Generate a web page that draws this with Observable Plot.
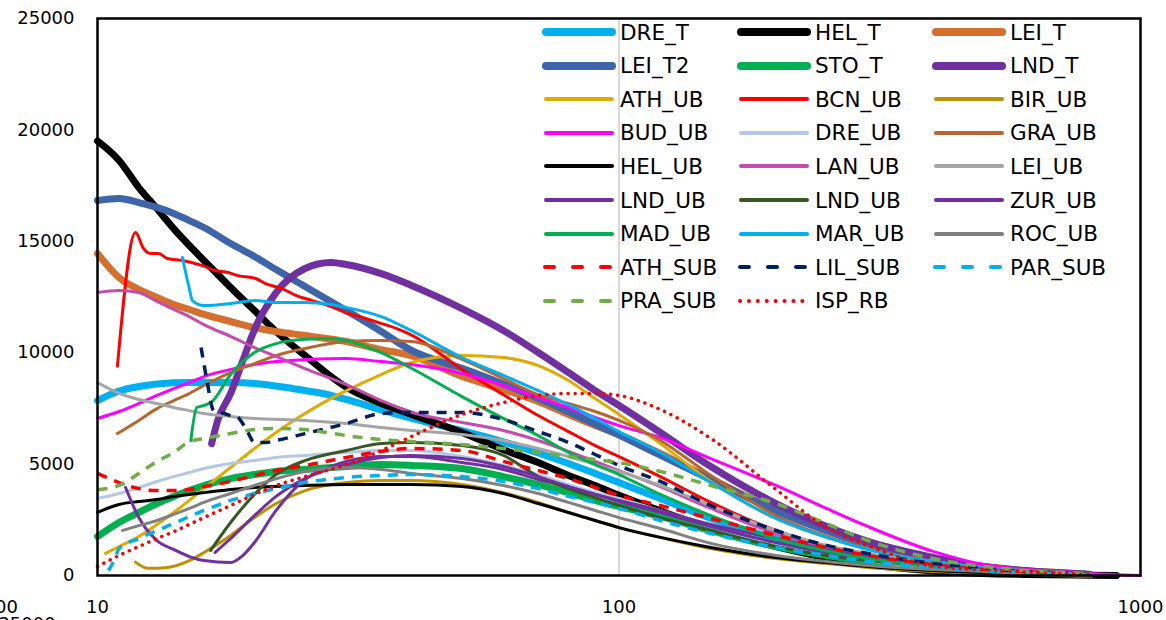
<!DOCTYPE html>
<html>
<head>
<meta charset="utf-8">
<script src="https://cdn.jsdelivr.net/npm/d3@7"></script>
<script src="https://cdn.jsdelivr.net/npm/@observablehq/plot@0.6"></script>
<style>
  html, body { margin: 0; padding: 0; background: #fff; overflow: hidden; }
  #wrap { position: relative; width: 1166px; height: 620px; }
  #legend { position: absolute; left: 0; top: 0; width: 1166px; height: 620px; pointer-events: none; }
  .item { position: absolute; height: 34px; display: flex; align-items: center; font-family: "DejaVu Sans", sans-serif; font-size: 21.5px; color: #000; white-space: nowrap; }
  .item svg { display: block; margin-right: 4px; }
</style>
</head>
<body>
<div id="wrap"><div id="chart"></div><div id="legend"></div></div>
<script>
// ---- data (x = size, y = value) ----
const DRE_T = [[10,7850],[11,8280],[12,8480],[13,8600],[15,8660],[18,8660],[20,8620],[23,8440],[25,8300],[27,8170],[30,7900],[35,7430],[40,7050],[50,6500],[60,6000],[70,5500],[80,5030],[90,4580],[100,4170],[120,3460],[150,2560],[200,1660],[250,1080],[300,760],[400,400],[500,220],[600,130],[800,45]];
const HEL_T = [[10,19500],[11,18630],[12,17410],[13,16470],[14,15570],[15,14810],[16,14140],[18,12925],[20,11890],[22,10950],[25,9870],[30,8450],[35,7720],[40,7230],[50,6420],[60,5650],[70,5070],[80,4490],[90,4040],[100,3600],[120,2900],[150,2100],[200,1300],[250,800],[300,500],[400,200],[500,90],[600,50],[800,15],[900,0]];
const LEI_T = [[10,14450],[11,13370],[12,12840],[13,12480],[14,12160],[15,11940],[16,11720],[18,11400],[20,11130],[22,10950],[25,10770],[30,10500],[35,10140],[40,9870],[50,8930],[60,8350],[70,7810],[80,7230],[90,6730],[100,6330],[120,5475],[150,4350],[200,2920],[250,2020],[300,1440],[400,760],[500,400],[600,220],[800,45]];
const LEI_T2 = [[10,16830],[11,16920],[12,16740],[13,16520],[14,16250],[15,15930],[16,15620],[18,14900],[20,14320],[22,13730],[25,12970],[30,11890],[35,10950],[40,10100],[50,9300],[60,8600],[70,7950],[80,7350],[90,6800],[100,6300],[120,5400],[150,4300],[200,2900],[250,2000],[300,1400],[400,700],[500,380],[600,200],[800,45]];
const STO_T = [[10,1750],[11,2380],[12,2830],[13,3230],[14,3550],[15,3810],[16,4040],[18,4350],[20,4530],[22,4670],[25,4760],[30,4890],[35,4980],[40,4940],[50,4800],[60,4440],[70,4080],[80,3720],[90,3370],[100,3100],[120,2650],[150,2020],[200,1300],[250,900],[300,630],[400,360],[500,180],[600,130],[800,45]];
const LND_T = [[16.55,5920],[17,6960],[18,8170],[19,9650],[20,11040],[22,12700],[25,13780],[28,14050],[30,13960],[35,13550],[40,13020],[50,11980],[60,11000],[70,10010],[80,9110],[90,8300],[100,7630],[120,6420],[150,4890],[200,3230],[250,2200],[300,1530],[400,810],[500,400],[600,220],[800,45]];
const ATH_UB = [[10.36,990],[11,1300],[12,1750],[13,2290],[14,2830],[15,3370],[16,3900],[18,4850],[20,5700],[22,6420],[25,7270],[28,7940],[30,8300],[35,9020],[40,9560],[50,9870],[60,9780],[70,9420],[80,8750],[90,7940],[100,7230],[120,5920],[150,4220],[200,2560],[250,1710],[300,1170],[400,630],[500,360],[600,220],[800,90]];
const BCN_UB = [[10.92,9400],[11.83,15390],[12.25,14680],[12.64,14450],[13.09,14450],[13.62,14230],[14.55,14140],[15.9,13910],[16.8,13690],[17.8,13600],[18.6,13460],[20.1,13330],[21,13100],[22.6,12880],[24,12570],[25.8,12340],[27.7,12120],[29.9,11800],[32.2,11580],[34.6,11350],[37.4,11090],[40.2,10770],[50,9250],[60,8120],[70,7180],[80,6460],[90,5830],[100,5340],[120,4440],[150,3280],[200,2020],[250,1300],[300,900],[400,450],[500,270],[600,180],[800,90]];
const BIR_UB = [[11.83,600],[12.5,320],[13.5,350],[15,670],[16,1030],[18,1800],[20,2600],[22,3230],[25,3810],[30,4170],[35,4260],[40,4260],[50,4080],[60,3720],[70,3280],[80,2830],[90,2470],[100,2150],[120,1710],[150,1210],[200,760],[250,540],[300,360],[400,180],[500,90],[600,45],[800,0]];
const BUD_UB = [[10,7050],[11,7360],[12,7720],[13,8080],[14,8390],[15,8660],[16,8930],[18,9250],[20,9470],[22,9600],[25,9690],[30,9740],[35,9600],[40,9470],[50,9070],[60,8530],[70,7990],[80,7540],[90,7090],[100,6730],[120,6190],[150,5250],[200,4040],[250,3010],[300,2200],[400,1080],[500,490],[600,270],[700,180],[800,90],[1000,0]];
const DRE_UB = [[10,3460],[11,3680],[12,3950],[13,4220],[14,4440],[15,4620],[16,4800],[18,5030],[20,5160],[22,5300],[25,5390],[30,5520],[35,5610],[40,5610],[50,5340],[60,4940],[70,4530],[80,4080],[90,3720],[100,3460],[120,2920],[150,2200],[200,1440],[250,990],[300,670],[400,360],[500,180],[600,90],[800,45]];
const GRA_UB = [[10.92,6370],[12,6960],[13,7490],[14,7850],[15,8170],[16,8530],[18,9110],[20,9510],[22,9870],[25,10190],[30,10500],[35,10550],[40,10500],[50,9700],[60,8840],[70,8120],[80,7720],[90,7360],[100,6960],[120,6060],[150,4490],[200,2690],[250,1750],[300,1210],[400,630],[500,360],[600,220],[800,90]];
const HEL_UB = [[10,2830],[11,3190],[12,3320],[13,3410],[14,3550],[15,3640],[16,3720],[18,3860],[20,3950],[25,4040],[30,4080],[40,4080],[50,3990],[60,3680],[70,3230],[80,2830],[90,2470],[100,2150],[120,1710],[150,1260],[200,810],[250,580],[300,400],[400,220],[500,130],[600,90],[800,45]];
const LAN_UB = [[10,12700],[11,12790],[12,12700],[13,12300],[14,11940],[15,11620],[16,11260],[18,10730],[20,10230],[22,9830],[25,9290],[30,8570],[35,7850],[40,7320],[50,6870],[60,6510],[70,6060],[80,5570],[90,5120],[100,4710],[120,3990],[150,3010],[200,1885],[250,1260],[300,900],[400,450],[500,270],[600,180],[800,90]];
const LEI_UB = [[10,8660],[11,8170],[12,7900],[13,7720],[14,7540],[15,7400],[16,7270],[18,7140],[20,7050],[25,6960],[30,6820],[35,6640],[40,6510],[50,6330],[60,6060],[70,5700],[80,5340],[90,4980],[100,4670],[120,4040],[150,3140],[200,2020],[250,1350],[300,990],[400,490],[500,270],[600,180],[800,90]];
const LND_UB = [[11.32,3950],[12,2600],[13,1570],[14,1170],[15,850],[16,670],[18,580],[19,900],[20,1480],[22,2920],[25,4310],[28,4890],[30,5120],[35,5340],[40,5340],[50,5070],[60,4760],[70,4310],[80,3990],[90,3640],[100,3370],[120,2920],[150,2290],[200,1660],[250,1170],[300,850],[400,450],[500,270],[600,180],[800,90]];
const LND_UB2 = [[16.47,1120],[18,2380],[20,3640],[22,4530],[25,5160],[30,5610],[35,5920],[40,5970],[50,5830],[60,5390],[70,4440],[80,3900],[90,3500],[100,3140],[120,2600],[150,2020],[200,1300],[250,900],[300,670],[400,400],[500,220],[600,130],[800,45]];
const ZUR_UB = [[16.8,1030],[18,1660],[20,2690],[22,3550],[25,4350],[30,4980],[35,5300],[40,5390],[50,5250],[60,4890],[70,4440],[80,3990],[90,3640],[100,3320],[120,2830],[150,2200],[200,1480],[250,1030],[300,760],[400,450],[500,270],[600,180],[800,90]];
const MAD_UB = [[15.1,6060],[15.5,7540],[16,7630],[16.5,7760],[18,9020],[20,10010],[22,10410],[25,10600],[28,10640],[30,10550],[35,10000],[40,9300],[50,8030],[60,7050],[70,6280],[80,5520],[90,4980],[100,4530],[120,3640],[150,2690],[200,1660],[250,1100],[300,760],[400,400],[500,220],[600,130],[800,45]];
const MAR_UB = [[14.55,14270],[15,12880],[15.2,12340],[16,12120],[18,12210],[20,12340],[22,12250],[25,12250],[28,12160],[30,12030],[35,11620],[40,10990],[50,9780],[60,8980],[70,8300],[80,7670],[90,7050],[100,6460],[120,5520],[150,4170],[200,2560],[250,1710],[300,1170],[400,630],[500,360],[600,220],[800,90]];
const ROC_UB = [[11.17,2020],[12,2240],[13,2470],[14,2740],[15,3010],[16,3280],[18,3680],[20,4040],[25,4670],[30,4850],[35,4760],[40,4580],[50,4350],[60,4040],[70,3680],[80,3280],[90,2920],[100,2600],[120,2110],[150,1440],[200,900],[250,630],[300,450],[400,270],[500,180],[600,90],[800,45]];
const ATH_SUB = [[10,4580],[11,4170],[12,3900],[13,3810],[14,3810],[15,3860],[16,3990],[18,4220],[20,4490],[22,4710],[25,4940],[30,5300],[35,5570],[40,5700],[50,5610],[60,5120],[70,4710],[80,4350],[90,3950],[100,3590],[120,3140],[150,2560],[200,1800],[250,1260],[300,900],[400,490],[500,270],[600,180],[800,90]];
const LIL_SUB = [[15.8,10230],[16.2,8800],[16.7,7400],[17.5,7270],[18,7180],[18.5,7130],[19.3,6550],[20,5970],[21,5970],[22,6060],[25,6370],[30,6820],[35,7270],[40,7320],[50,7320],[60,7000],[70,6460],[80,5970],[90,5430],[100,4940],[120,4220],[150,3140],[200,2020],[250,1350],[300,990],[400,540],[500,310],[600,180],[800,90]];
const PAR_SUB = [[10.5,220],[10.8,760],[11,1210],[12,1660],[13,2020],[14,2330],[15,2650],[16,2920],[18,3370],[20,3680],[22,3900],[25,4170],[30,4400],[35,4490],[40,4530],[50,4440],[60,4220],[70,3900],[80,3550],[90,3280],[100,3010],[120,2470],[150,1885],[200,1260],[250,900],[300,630],[400,360],[500,220],[600,130],[800,45]];
const PRA_SUB = [[10,3850],[11,4040],[12,4580],[13,5120],[14,5520],[15,6010],[16,6150],[18,6370],[20,6550],[22,6600],[25,6550],[30,6280],[35,6100],[40,6010],[50,5880],[60,5700],[70,5520],[80,5340],[90,5210],[100,5070],[120,4670],[150,4040],[200,3230],[250,2330],[300,1570],[400,760],[500,400],[600,220],[800,90]];
const ISP_RB = [[10,400],[11,900],[12,1300],[13,1660],[14,1970],[15,2290],[16,2600],[18,3140],[20,3640],[22,4040],[25,4440],[30,4980],[35,5610],[40,6240],[50,7230],[60,7760],[70,8080],[80,8170],[90,8170],[100,8080],[120,7450],[150,6150],[200,3860],[250,2150],[300,1350],[400,420],[500,250],[600,160],[700,100],[800,45]];

const xTicks = [10, 100, 1000];
const yTicks = [0, 5000, 10000, 15000, 20000, 25000];

// ---- series definitions (name, data, style) ----
const series = [
  {name: "DRE_T",   data: DRE_T,   color: "#00b0f0", w: 7},
  {name: "HEL_T",   data: HEL_T,   color: "#000000", w: 7},
  {name: "LEI_T",   data: LEI_T,   color: "#d46f2e", w: 7},
  {name: "LEI_T2",  data: LEI_T2,  color: "#3e64aa", w: 7},
  {name: "STO_T",   data: STO_T,   color: "#00b050", w: 7},
  {name: "LND_T",   data: LND_T,   color: "#7030a0", w: 7},
  {name: "ATH_UB",  data: ATH_UB,  color: "#e2aa00", w: 3},
  {name: "BCN_UB",  data: BCN_UB,  color: "#ff0000", w: 3},
  {name: "BIR_UB",  data: BIR_UB,  color: "#bf9000", w: 3},
  {name: "BUD_UB",  data: BUD_UB,  color: "#ff00ff", w: 3},
  {name: "DRE_UB",  data: DRE_UB,  color: "#b4c7e7", w: 3},
  {name: "GRA_UB",  data: GRA_UB,  color: "#b9652c", w: 3},
  {name: "HEL_UB",  data: HEL_UB,  color: "#000000", w: 3},
  {name: "LAN_UB",  data: LAN_UB,  color: "#c84aad", w: 3},
  {name: "LEI_UB",  data: LEI_UB,  color: "#a5a5a5", w: 3},
  {name: "LND_UB",  data: LND_UB,  color: "#7030a0", w: 3},
  {name: "LND_UB",  data: LND_UB2, color: "#385723", w: 3},
  {name: "ZUR_UB",  data: ZUR_UB,  color: "#7030a0", w: 3},
  {name: "MAD_UB",  data: MAD_UB,  color: "#00b050", w: 3},
  {name: "MAR_UB",  data: MAR_UB,  color: "#00b0f0", w: 3},
  {name: "ROC_UB",  data: ROC_UB,  color: "#808080", w: 3},
  {name: "ATH_SUB", data: ATH_SUB, color: "#ff0000", w: 3.5, dash: "10,8"},
  {name: "LIL_SUB", data: LIL_SUB, color: "#002060", w: 3.5, dash: "10,8"},
  {name: "PAR_SUB", data: PAR_SUB, color: "#00b0f0", w: 3.5, dash: "10,8"},
  {name: "PRA_SUB", data: PRA_SUB, color: "#70ad47", w: 3.5, dash: "10,8"},
  {name: "ISP_RB",  data: ISP_RB,  color: "#ff0000", w: 3.5, dot: true}
];

const lineMarks = series.map(s => Plot.line(s.data, {
  x: d => d[0], y: d => d[1],
  stroke: s.color, strokeWidth: s.w,
  curve: "monotone-x",
  strokeLinejoin: "round",
  strokeLinecap: s.dot ? "round" : (s.dash ? "butt" : "round"),
  strokeDasharray: s.dot ? "0.1,7" : (s.dash || null)
}));

const chart = Plot.plot({
  width: 1166, height: 620,
  marginLeft: 97, marginRight: 26, marginTop: 18, marginBottom: 45,
  style: {fontFamily: "DejaVu Sans, sans-serif", fontSize: "18px", color: "#000", background: "#fff"},
  x: {type: "log", domain: [10, 1000]},
  y: {domain: [0, 25000]},
  marks: [
    Plot.ruleX([100], {stroke: "#d9d9d9", strokeWidth: 2}),
    ...lineMarks,
    Plot.frame({stroke: "#000", strokeWidth: 2.5}),
    Plot.axisX(xTicks, {tickSize: 0, tickPadding: 25, tickFormat: d => String(d), label: null, fontSize: 18}),
    Plot.axisY(yTicks, {tickSize: 0, tickPadding: 23, tickFormat: d => String(d), label: null, fontSize: 18})
  ]
});
document.getElementById("chart").appendChild(chart);

// stray clipped labels visible at the bottom-left edge of the original picture
const svg = d3.select(chart);
svg.append("text").attr("x", 18).attr("y", 613).attr("text-anchor", "end")
  .attr("font-family", "DejaVu Sans").attr("font-size", 18).text("100");
svg.append("text").attr("x", 27).attr("y", 630)
  .attr("font-family", "DejaVu Sans").attr("font-size", 18).text("25000");

// ---- legend (inside the plot area, 3 columns) ----
const legend = document.getElementById("legend");
series.forEach((s, i) => {
  const col = i % 3, row = Math.floor(i / 3);
  const div = document.createElement("div");
  div.className = "item";
  div.style.left = (540 + col * 195) + "px";
  div.style.top = (15 + row * 33.6) + "px";
  const sw = d3.create("svg").attr("width", 76).attr("height", 34);
  const sWidth = s.w >= 7 ? 8 : 4;
  sw.append("line").attr("x1", s.dash || s.dot ? 5 : 6).attr("x2", 72).attr("y1", 17).attr("y2", 17)
    .attr("stroke", s.color).attr("stroke-width", sWidth)
    .attr("stroke-linecap", "round")
    .attr("stroke-dasharray", s.dot ? "0.1,8.8" : (s.dash ? "9,19" : null));
  div.appendChild(sw.node());
  const t = document.createElement("span");
  t.textContent = s.name;
  div.appendChild(t);
  legend.appendChild(div);
});
</script>
</body>
</html>
